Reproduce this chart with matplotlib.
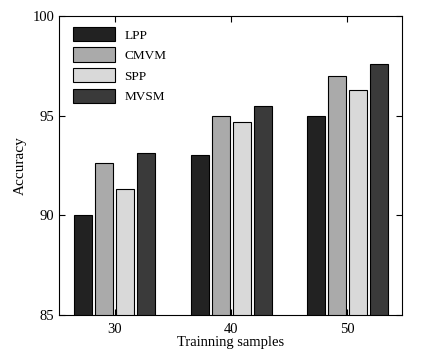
import matplotlib.pyplot as plt
import numpy as np

# data
samples = ['30', '40', '50']
methods = ['LPP', 'CMVM', 'SPP', 'MVSM']
lpp = [90.0, 93.0, 95.0]
cmvm = [92.6, 95.0, 97.0]
spp = [91.3, 94.7, 96.3]
mvsm = [93.1, 95.5, 97.6]
colors = ['#222222', '#aaaaaa', '#d9d9d9', '#3a3a3a']

plt.rcParams['font.family'] = ['Liberation Serif', 'DejaVu Serif']

fig = plt.figure(figsize=(4.31, 3.62), dpi=100)
ax = fig.add_axes([0.137, 0.130, 0.796, 0.826])

x = np.arange(len(samples))
step = 0.18
width = 0.155
for i, (vals, name) in enumerate(zip([lpp, cmvm, spp, mvsm], methods)):
    ax.bar(x + (i - 1.5) * step, vals, width, color=colors[i],
           edgecolor='black', linewidth=0.8, label=name)

ax.set_xlim(-0.48, 2.47)
ax.set_ylim(85, 100)
ax.set_yticks([85, 90, 95, 100])
ax.set_xticks(x)
ax.set_xticklabels(samples)
ax.tick_params(direction='in', top=True, right=True, length=4,
               labelsize=10.5, width=0.8)
ax.tick_params(axis='x', pad=6)
for s in ax.spines.values():
    s.set_linewidth(0.8)

ax.set_xlabel('Trainning samples', fontsize=10.5, labelpad=0)
ax.set_ylabel('Accuracy', fontsize=11, labelpad=4)

ax.legend(loc='upper left', frameon=False, fontsize=9.5,
          bbox_to_anchor=(14 / 343, 1 - 11 / 299),
          handlelength=3.2, handleheight=1.3, labelspacing=0.45,
          handletextpad=0.7, borderaxespad=0, borderpad=0)

fig.savefig('out.png', dpi=100)
